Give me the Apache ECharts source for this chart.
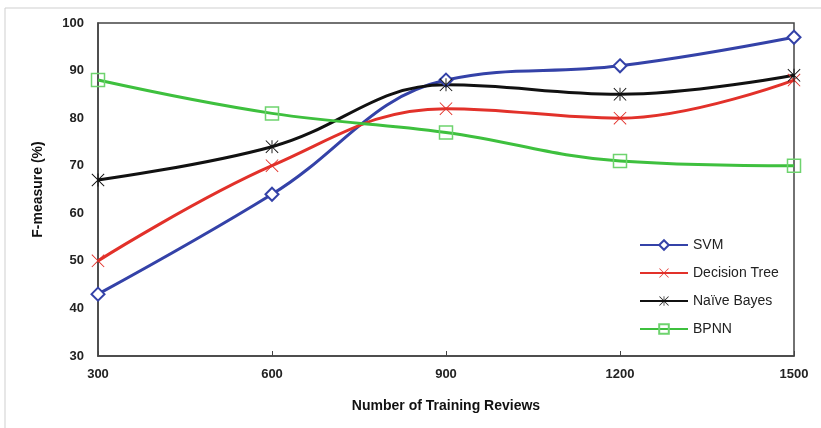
<!DOCTYPE html>
<html><head><meta charset="utf-8">
<script src="https://cdn.jsdelivr.net/npm/echarts@6/dist/echarts.min.js"></script>
<style>html,body{margin:0;padding:0;background:#fff}#c{width:821px;height:428px}</style>
</head><body><div id="c"></div>
<script>
const categories = ['300','600','900','1200','1500'];
const svm = [43, 64, 88, 91, 97];
const decisionTree = [50, 70, 82, 80, 88];
const naiveBayes = [67, 74, 87, 85, 89];
const bpnn = [88, 81, 77, 71, 70];
const yTicks = {min: 30, max: 100, interval: 10};

const xPath = 'path://M0,1 L1,0 L10,9 L19,0 L20,1 L11,10 L20,19 L19,20 L10,11 L1,20 L0,19 L9,10 Z';
const starPath = 'path://M0,1 L1,0 L10,9 L19,0 L20,1 L11,10 L20,19 L19,20 L10,11 L1,20 L0,19 L9,10 Z M9.3,0 L10.7,0 L10.7,20 L9.3,20 Z';

const chart = echarts.init(document.getElementById('c'));
const font = 'Liberation Sans, Arial, sans-serif';
chart.setOption({
  animation: false,
  graphic: [
    {type:'line', shape:{x1:5,y1:8,x2:821,y2:8}, style:{stroke:'#cfcfcf', lineWidth:1}},
    {type:'line', shape:{x1:5,y1:8,x2:5,y2:428}, style:{stroke:'#cfcfcf', lineWidth:1}}
  ],
  grid: {left: 98, top: 23, right: 27, bottom: 72, show: true, borderColor: '#444', borderWidth: 1.5, backgroundColor: 'transparent'},
  legend: {
    orient: 'vertical', left: 634, top: 233, itemWidth: 48, itemHeight: 12, itemGap: 14,
    textStyle: {fontFamily: font, fontSize: 14, color: '#222'},
    data: ['SVM','Decision Tree','Naïve Bayes','BPNN']
  },
  xAxis: {
    type: 'category', data: categories, boundaryGap: false,
    name: 'Number of Training Reviews', nameLocation: 'middle', nameGap: 43,
    nameTextStyle: {fontFamily: font, fontSize: 14, fontWeight: 'bold', color: '#111'},
    axisLine: {lineStyle: {color: '#444', width: 1.5}},
    axisTick: {inside: true, length: 5, alignWithLabel: true, lineStyle: {color: '#444'}},
    axisLabel: {fontFamily: font, fontSize: 13, fontWeight: 'bold', color: '#222', margin: 12},
    splitLine: {show: false}
  },
  yAxis: {
    type: 'value', min: yTicks.min, max: yTicks.max, interval: yTicks.interval,
    name: 'F-measure (%)', nameLocation: 'middle', nameGap: 53, nameRotate: 90,
    nameTextStyle: {fontFamily: font, fontSize: 14, fontWeight: 'bold', color: '#111'},
    axisLine: {show: true, lineStyle: {color: '#444', width: 1.5}},
    axisTick: {show: false},
    axisLabel: {fontFamily: font, fontSize: 13, fontWeight: 'bold', color: '#222', margin: 14},
    splitLine: {show: false}
  },
  series: [
    {name: 'SVM', type: 'line', data: svm, smooth: 0.4, symbol: 'diamond', symbolSize: 13,
     lineStyle: {color: '#3442A8', width: 3}, itemStyle: {color: '#fff', borderColor: '#3442A8', borderWidth: 2}},
    {name: 'Decision Tree', type: 'line', data: decisionTree, smooth: 0.4, symbol: xPath, symbolSize: 13,
     lineStyle: {color: '#E2312A', width: 3}, itemStyle: {color: '#E2312A', borderWidth: 0}},
    {name: 'Naïve Bayes', type: 'line', data: naiveBayes, smooth: 0.4, symbol: starPath, symbolSize: 13,
     lineStyle: {color: '#111', width: 3}, itemStyle: {color: '#111', borderWidth: 0}},
    {name: 'BPNN', type: 'line', data: bpnn, smooth: 0.4, symbol: 'rect', symbolSize: 13,
     lineStyle: {color: '#3EC03E', width: 3}, itemStyle: {color: 'rgba(255,255,255,0)', borderColor: '#6ED36E', borderWidth: 1.5}}
  ]
});
</script></body></html>
